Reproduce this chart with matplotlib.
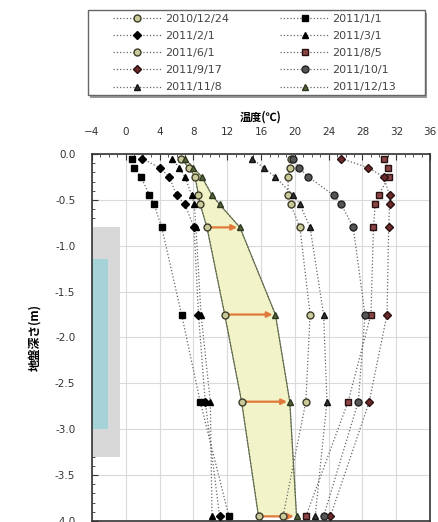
import matplotlib
matplotlib.use('Agg')
import matplotlib.pyplot as plt
from matplotlib.patches import Rectangle
from matplotlib.ticker import MultipleLocator

plt.rcParams['font.family'] = ['DejaVu Sans', 'Noto Sans CJK JP']

# depths of the measurement points (m)
depth = [-0.05, -0.15, -0.25, -0.45, -0.55, -0.8, -1.75, -2.7, -3.95]

dates = ['2010/12/24', '2011/1/1', '2011/2/1', '2011/3/1', '2011/6/1',
         '2011/8/5', '2011/9/17', '2011/10/1', '2011/11/8', '2011/12/13']

t_101224 = [6.5, 7.5, 8.2, 8.6, 8.8, 9.6, 11.7, 13.7, 15.7]
t_110101 = [0.7, 1.0, 1.8, 2.8, 3.35, 4.25, 6.6, 8.8, 12.2]
t_110201 = [1.9, 4.05, 5.15, 6.0, 7.0, 8.07, 8.6, 9.4, 11.1]
t_110301 = [5.5, 6.3, 7.0, 7.8, 8.1, 8.3, 8.9, 10.0, 10.2]
t_110601 = [19.6, 19.4, 19.2, 19.2, 19.5, 20.6, 21.8, 21.3, 18.6]
t_110805 = [30.5, 31.0, 31.1, 29.9, 29.5, 29.3, 29.0, 26.3, 21.3]
t_110917 = [25.5, 28.7, 30.5, 31.2, 31.2, 31.1, 30.9, 28.8, 24.2]
t_111001 = [19.8, 20.5, 21.6, 24.6, 25.5, 26.9, 28.3, 27.5, 23.4]
t_111108 = [14.9, 16.3, 17.7, 19.8, 20.6, 21.8, 23.4, 23.8, 22.4]
t_111213 = [7.0, 8.0, 9.0, 10.2, 11.1, 13.5, 17.7, 19.4, 20.2]

series = [t_101224, t_110101, t_110201, t_110301, t_110601,
          t_110805, t_110917, t_111001, t_111108, t_111213]
markers = ['o', 's', 'D', '^', 'o', 's', 'D', 'o', '^', '^']
faces = ['#c9c99a', 'black', 'black', 'black', '#c9c99a',
         '#8a4545', '#6b2a2a', '#555555', '#333333', '#56633a']
edges = ['#3c3c28', 'black', 'black', 'black', '#3c3c28',
         '#2a1010', '#2a1010', '#222222', '#111111', '#2e3820']

# arrows from 2010/12/24 to 2011/12/13
arrow_depths = [-0.8, -1.75, -2.7, -3.95]

fig = plt.figure(figsize=(4.38, 5.22), dpi=100)
ax = fig.add_axes([0.210, 0.002, 0.772, 0.703])

ax.add_patch(Rectangle((-4, -3.3), 3.3, 2.5, facecolor='#d8d8d8', edgecolor='none', zorder=1))
ax.add_patch(Rectangle((-4, -3.0), 1.9, 1.85, facecolor='#a6d3d8', edgecolor='none', zorder=1))

ax.fill_betweenx(depth, t_101224, t_111213, facecolor='#f2f3c9', edgecolor='none', zorder=1)
ax.plot(t_101224, depth, color='#5e7040', lw=0.8, zorder=2)
ax.plot(t_111213, depth, color='#5e7040', lw=0.8, zorder=2)

for d in arrow_depths:
    i = depth.index(d)
    ax.annotate('', xy=(t_111213[i], d), xytext=(t_101224[i], d),
                arrowprops=dict(arrowstyle='-|>', color='#e07a3c', lw=1.6,
                                mutation_scale=8, shrinkA=0, shrinkB=2),
                zorder=3)

handles = []
for temps, m, fc, ec, lab in zip(series, markers, faces, edges, dates):
    h, = ax.plot(temps, depth, linestyle=':', color='#666666', lw=0.9,
                 marker=m, markersize=5 if m != 'D' else 4.5,
                 markerfacecolor=fc, markeredgecolor=ec, markeredgewidth=1.0,
                 label=lab, zorder=4)
    handles.append(h)

ax.set_xlim(-4, 36)
ax.set_ylim(-4.0, 0.0)
ax.xaxis.tick_top()
ax.xaxis.set_label_position('top')
ax.xaxis.set_major_locator(MultipleLocator(4))
ax.xaxis.set_minor_locator(MultipleLocator(1))
ax.yaxis.set_major_locator(MultipleLocator(0.5))
ax.yaxis.set_minor_locator(MultipleLocator(0.1))
ax.yaxis.set_major_formatter(plt.FuncFormatter(lambda v, p: f'{v:.1f}'))
ax.tick_params(axis='both', which='both', direction='in', labelsize=7.5,
               colors='#333333', top=True, bottom=False, right=False)
ax.tick_params(which='major', length=4)
ax.tick_params(which='minor', length=2)
ax.tick_params(axis='y', pad=12)
ax.tick_params(axis='x', pad=12)
ax.grid(True, which='major', color='#dadada', lw=0.8)
ax.set_axisbelow(True)
for s in ax.spines.values():
    s.set_color('#333333')
    s.set_linewidth(1.2)

ax.set_xlabel('温度(℃)', fontsize=8, family=['Noto Sans CJK JP', 'DejaVu Sans'],
              labelpad=5, fontweight='bold')
ax.set_ylabel('地盤深さ(m)', fontsize=8.5, family=['Noto Sans CJK JP', 'DejaVu Sans'],
              labelpad=10, fontweight='bold')

# legend box with a grey drop shadow
fig.add_artist(Rectangle((0.205, 0.812), 0.769, 0.163, transform=fig.transFigure,
                         facecolor='#9a9a9a', edgecolor='none', zorder=0))
fig.add_artist(Rectangle((0.201, 0.818), 0.769, 0.163, transform=fig.transFigure,
                         facecolor='white', edgecolor='#666666', lw=1.0, zorder=1))

# legend is filled row by row in the original
order = [0, 2, 4, 6, 8, 1, 3, 5, 7, 9]
leg = fig.legend([handles[i] for i in order], [dates[i] for i in order],
                 ncol=2, loc='upper left', bbox_to_anchor=(113 / 438, 1 - 14 / 522),
                 fontsize=8, frameon=False,
                 handlelength=4.4, handletextpad=0.3, columnspacing=4.6,
                 labelspacing=0.64, borderpad=0, borderaxespad=0)
leg.set_zorder(2)
for t in leg.get_texts():
    t.set_color('#444444')

fig.savefig('out.png', dpi=100)
